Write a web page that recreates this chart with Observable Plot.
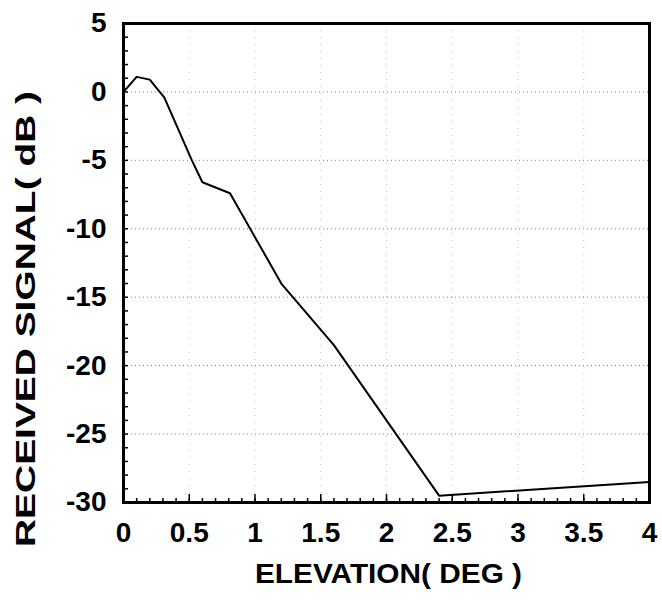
<!DOCTYPE html>
<html>
<head>
<meta charset="utf-8">
<script src="https://cdn.jsdelivr.net/npm/d3@7"></script>
<script src="https://cdn.jsdelivr.net/npm/@observablehq/plot@0.6"></script>
<style>
  html, body { margin: 0; padding: 0; background: #fff; }
</style>
</head>
<body>
<div id="chart"></div>
<script>
const elevation = [0, 0.1, 0.2, 0.25, 0.31, 0.52, 0.6, 0.81, 1.2, 1.6, 2.4, 4];
const signal    = [0, 1.1, 0.9, 0.3, -0.4, -5.0, -6.6, -7.4, -14.0, -18.5, -29.5, -28.5];

const xTicks = [0, 0.5, 1, 1.5, 2, 2.5, 3, 3.5, 4];
const xTickLabels = ["0", "0.5", "1", "1.5", "2", "2.5", "3", "3.5", "4"];
const yTicks = [5, 0, -5, -10, -15, -20, -25, -30];
const yTickLabels = ["5", "0", "-5", "-10", "-15", "-20", "-25", "-30"];
const xMinor = d3.range(1, 40).map(i => i / 10);
const yMinor = d3.range(-29, 5);
const xGrid = [0.5, 1, 1.5, 2, 2.5, 3, 3.5];
const yGrid = [0, -5, -10, -15, -20, -25];

const xLabel = "ELEVATION( DEG )";
const yLabel = "RECEIVED SIGNAL( dB )";

const data = elevation.map((x, i) => ({x, y: signal[i]}));

const W = 662, H = 602, ML = 123, MR = 13, MT = 23, MB = 100;
const innerW = W - ML - MR, innerH = H - MT - MB;

const chart = Plot.plot({
  width: W, height: H,
  marginLeft: ML, marginRight: MR, marginTop: MT, marginBottom: MB,
  x: {domain: [0, 4]},
  y: {domain: [-30, 5]},
  style: {fontFamily: "'Liberation Sans', Arial, sans-serif", fontWeight: "bold", background: "#fff", color: "#000"},
  marks: [
    Plot.gridY(yGrid, {stroke: "#000", strokeOpacity: 0.5, strokeDasharray: "1,3"}),
    Plot.gridX(xGrid, {stroke: "#000", strokeOpacity: 0.25, strokeDasharray: "1,6"}),
    Plot.ruleY(yMinor, {insetRight: innerW - 5, stroke: "#000", strokeWidth: 1.5}),
    Plot.ruleX(xMinor, {insetTop: innerH - 4, stroke: "#000", strokeWidth: 1.5}),
    Plot.ruleX(xTicks, {insetTop: innerH - 8, stroke: "#000", strokeWidth: 1.5}),
    Plot.axisX(xTicks, {tickSize: 0, tickPadding: 20, fontSize: 28, tickFormat: (d, i) => xTickLabels[i], label: null}),
    Plot.axisY(yTicks, {tickSize: 0, tickPadding: 17, fontSize: 28, tickFormat: (d, i) => yTickLabels[i], label: null}),
    Plot.line(data, {x: "x", y: "y", stroke: "#000", strokeWidth: 2}),
    Plot.frame({stroke: "#000", strokeWidth: 3}),
    Plot.text([xLabel], {frameAnchor: "bottom", dx: 2, dy: 80, fontSize: 28, fontWeight: "bold", fill: "#000", className: "xlab"}),
    Plot.text([yLabel], {frameAnchor: "left", textAnchor: "middle", dx: -97, dy: 56, rotate: -90, fontSize: 28, fontWeight: "bold", fill: "#000", className: "ylab"})
  ]
});
d3.select(chart).selectAll("g.ylab text").attr("textLength", 456).attr("lengthAdjust", "spacingAndGlyphs");
d3.select(chart).selectAll("g.xlab text").attr("textLength", 267).attr("lengthAdjust", "spacingAndGlyphs");
document.getElementById("chart").appendChild(chart);
</script>
</body>
</html>
